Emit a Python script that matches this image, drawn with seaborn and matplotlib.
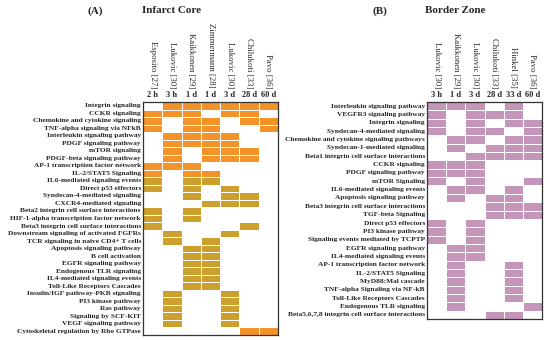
import numpy as np
import seaborn as sns
import matplotlib.pyplot as plt
from matplotlib.colors import ListedColormap

# ---- (A) infarct core ----
infarct_pathways = [
    "Integrin signaling", "CCKR signaling", "Chemokine and cytokine signaling",
    "TNF-alpha signaling via NFkB", "Interleukin signaling pathway",
    "PDGF signaling pathway", "mTOR signaling", "PDGF-beta signaling pathway",
    "AP-1 transcription factor network", "IL-2/STAT5 Signaling",
    "IL6-mediated signaling events", "Direct p53 effectors",
    "Syndecan-4-mediated signaling", "CXCR4-mediated signaling",
    "Beta2 integrin cell surface interactions",
    "HIF-1-alpha transcription factor network",
    "Beta3 integrin cell surface interactions",
    "Downstream signaling of activated FGFRs",
    "TCR signaling in naive CD4+ T cells", "Apoptosis signaling pathway",
    "B cell activation", "EGFR signaling pathway", "Endogenous TLR signaling",
    "IL4-mediated signaling events", "Toll-Like Receptors Cascades",
    "Insulin/IGF pathway-PKB signaling", "PI3 kinase pathway", "Ras pathway",
    "Signaling by SCF-KIT", "VEGF signaling pathway",
    "Cytoskeletal regulation by Rho GTPase",
]
infarct_studies = ["Esposito [27]", "Lukovic [30]", "Kaikkonen [29]",
                   "Zimmermann [28]", "Lukovic [30]", "Chilukoti [33]", "Pavo [36]"]
infarct_times = ["2 h", "3 h", "1 d", "1 d", "3 d", "28 d", "60 d"]
infarct_hits = [
    [0, 1, 1, 1, 1, 1, 1],
    [1, 1, 1, 0, 1, 1, 0],
    [1, 0, 1, 1, 0, 1, 1],
    [1, 0, 1, 1, 0, 0, 1],
    [0, 1, 1, 1, 1, 0, 0],
    [0, 1, 1, 1, 1, 0, 0],
    [0, 1, 0, 1, 1, 1, 0],
    [0, 1, 0, 1, 1, 1, 0],
    [1, 1, 1, 0, 0, 0, 0],
    [1, 0, 1, 1, 0, 0, 0],
    [1, 0, 1, 1, 0, 0, 0],
    [1, 0, 1, 0, 1, 0, 0],
    [0, 0, 1, 0, 1, 1, 0],
    [0, 0, 0, 1, 1, 1, 0],
    [1, 0, 1, 0, 0, 0, 0],
    [1, 0, 1, 0, 0, 0, 0],
    [1, 0, 0, 0, 0, 1, 0],
    [0, 1, 0, 0, 1, 0, 0],
    [0, 1, 0, 1, 0, 0, 0],
    [0, 0, 1, 1, 0, 0, 0],
    [0, 0, 1, 1, 0, 0, 0],
    [0, 0, 1, 1, 0, 0, 0],
    [0, 0, 1, 1, 0, 0, 0],
    [0, 0, 1, 1, 0, 0, 0],
    [0, 0, 1, 1, 0, 0, 0],
    [0, 1, 0, 0, 1, 0, 0],
    [0, 1, 0, 0, 1, 0, 0],
    [0, 1, 0, 0, 1, 0, 0],
    [0, 1, 0, 0, 1, 0, 0],
    [0, 1, 0, 0, 1, 0, 0],
    [0, 0, 0, 0, 0, 1, 1],
]

# ---- (B) border zone ----
border_pathways = [
    "Interleukin signaling pathway", "VEGFR3 signaling pathway",
    "Integrin signaling", "Syndecan-4-mediated signaling",
    "Chemokine and cytokine signaling pathways",
    "Syndecan-1-mediated signaling",
    "Beta1 integrin cell surface interactions", "CCKR signaling",
    "PDGF signaling pathway", "mTOR Signaling",
    "IL6-mediated signaling events", "Apoptosis signaling pathway",
    "Beta3 integrin cell surface interactions", "TGF-beta Signaling",
    "Direct p53 effectors", "PI3 kinase pathway",
    "Signaling events mediated by TCPTP", "EGFR signaling pathway",
    "IL4-mediated signaling events", "AP-1 transcription factor network",
    "IL-2/STAT5 Signaling", "MyD88:Mal cascade",
    "TNF-alpha Signaling via NF-kB", "Toll-Like Receptors Cascades",
    "Endogenous TLR signaling",
    "Beta5,6,7,8 integrin cell surface interactions",
]
border_studies = ["Lukovic [30]", "Kaikkonen [29]", "Lukovic [30]",
                  "Chilukoti [33]", "Hinkel [35]", "Pavo [36]"]
border_times = ["3 h", "1 d", "3 d", "28 d", "33 d", "60 d"]
border_hits = [
    [1, 1, 1, 0, 1, 0],
    [1, 0, 1, 1, 1, 0],
    [1, 0, 1, 0, 1, 1],
    [1, 0, 1, 1, 0, 1],
    [0, 1, 1, 0, 1, 1],
    [0, 1, 0, 1, 1, 1],
    [0, 0, 1, 1, 1, 1],
    [1, 1, 1, 0, 0, 0],
    [1, 1, 1, 0, 0, 0],
    [1, 0, 1, 0, 0, 1],
    [0, 1, 1, 0, 1, 0],
    [0, 1, 0, 1, 1, 0],
    [0, 0, 0, 1, 1, 1],
    [0, 0, 0, 1, 1, 1],
    [1, 0, 1, 0, 0, 0],
    [1, 0, 1, 0, 0, 0],
    [1, 0, 1, 0, 0, 0],
    [0, 1, 1, 0, 0, 0],
    [0, 1, 1, 0, 0, 0],
    [0, 1, 0, 0, 1, 0],
    [0, 1, 0, 0, 1, 0],
    [0, 1, 0, 0, 1, 0],
    [0, 1, 0, 0, 1, 0],
    [0, 1, 0, 0, 1, 0],
    [0, 1, 0, 0, 0, 1],
    [0, 0, 0, 1, 1, 0],
]

sns.set_theme(style="white")
plt.rcParams["font.family"] = ["Liberation Serif", "DejaVu Serif"]

ORANGE = "#F29228"
OLIVE = "#CDA02E"
PURPLE = "#C396BA"
LABEL_FS = 5.3


def draw_panel(ax, hits, tone, pathways, studies, times, colors):
    mat = np.array(hits) * np.array(tone)[:, None]
    sns.heatmap(mat, ax=ax, cmap=ListedColormap(["white"] + colors),
                vmin=-0.5, vmax=len(colors) + 0.5, cbar=False,
                linewidths=0.6, linecolor="white",
                xticklabels=False, yticklabels=pathways)
    ax.tick_params(axis="y", length=0, pad=1.5)
    for lab in ax.get_yticklabels():
        lab.set_fontsize(LABEL_FS)
        lab.set_fontweight("bold")
        lab.set_rotation(0)
    for s in ax.spines.values():
        s.set_visible(True)
        s.set_color("#333333")
        s.set_linewidth(0.9)
    for j, (name, t) in enumerate(zip(studies, times)):
        ax.annotate(t, xy=(j + 0.5, 0), xycoords="data", xytext=(0, 2),
                    textcoords="offset points", ha="center", va="bottom",
                    fontsize=6, fontweight="bold")
        ax.annotate(name, xy=(j + 0.5, 0), xycoords="data", xytext=(0, 10),
                    textcoords="offset points", ha="center", va="bottom",
                    fontsize=6.3, rotation=-90)


fig = plt.figure(figsize=(5.5, 3.4), dpi=100)

ax_a = fig.add_axes([143 / 550, 1 - 335 / 340, 135 / 550, 233 / 340])
tone_a = [2 if 10 <= i < 30 else 1 for i in range(len(infarct_pathways))]
draw_panel(ax_a, infarct_hits, tone_a, infarct_pathways, infarct_studies,
           infarct_times, [ORANGE, OLIVE])

ax_b = fig.add_axes([427 / 550, 1 - 319 / 340, 115 / 550, 217 / 340])
tone_b = [1] * len(border_pathways)
draw_panel(ax_b, border_hits, tone_b, border_pathways, border_studies,
           border_times, [PURPLE])

fig.text(95 / 550, 0.968, "(A)", ha="center", va="center", fontsize=8, fontweight="bold")
fig.text(171 / 550, 0.968, "Infarct Core", ha="center", va="center", fontsize=8, fontweight="bold")
fig.text(380 / 550, 0.968, "(B)", ha="center", va="center", fontsize=8, fontweight="bold")
fig.text(455 / 550, 0.968, "Border Zone", ha="center", va="center", fontsize=8, fontweight="bold")

fig.savefig("out.png", dpi=100)
